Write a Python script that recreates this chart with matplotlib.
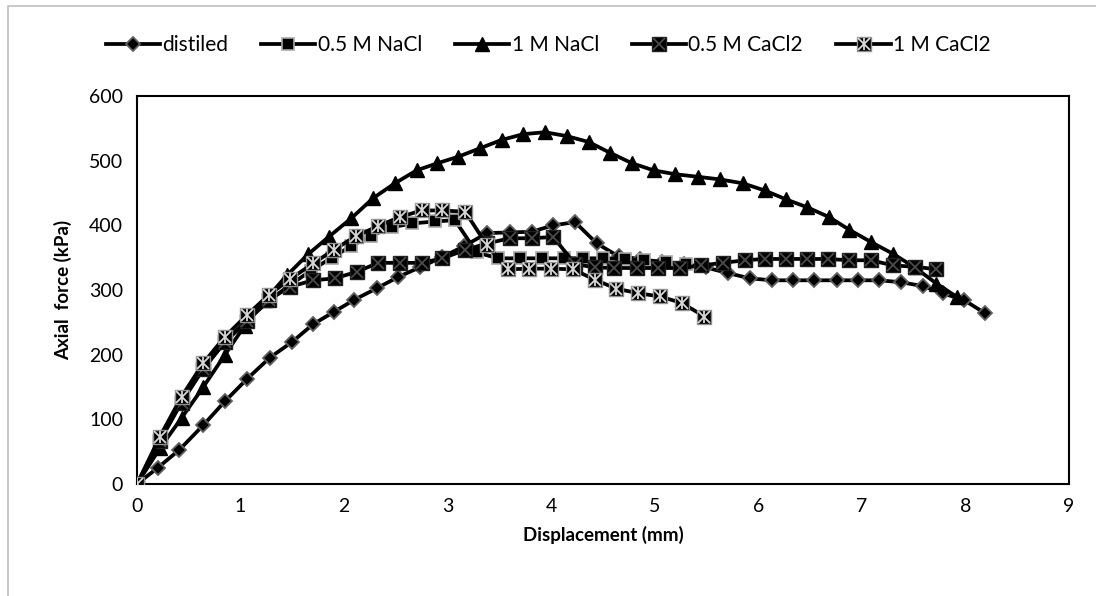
import matplotlib
matplotlib.use("Agg")
import matplotlib.pyplot as plt
from matplotlib.patches import Rectangle

plt.rcParams['font.family'] = ['Lato', 'DejaVu Sans']

# ---- data ----
x_dist = [0, 0.20, 0.41, 0.64, 0.85, 1.06, 1.28, 1.50, 1.70, 1.90, 2.10, 2.32, 2.52, 2.73, 2.95,
          3.16, 3.38, 3.60, 3.81, 4.02, 4.23, 4.44, 4.65, 4.86, 5.07, 5.28, 5.49, 5.71, 5.92,
          6.13, 6.33, 6.54, 6.76, 6.96, 7.17, 7.38, 7.59, 7.78, 7.99, 8.19]
y_dist = [0, 25, 53, 91, 128, 162, 195, 220, 247, 266, 285, 303, 320, 335, 351,
          368, 388, 389, 390, 400, 405, 372, 352, 348, 343, 340, 335, 326, 318,
          315, 315, 315, 315, 315, 315, 312, 306, 295, 284, 264]

x_nacl05 = [0, 0.22, 0.43, 0.64, 0.85, 1.06, 1.27, 1.48, 1.68, 1.88, 2.07, 2.26, 2.46, 2.66,
            2.88, 3.07, 3.28, 3.49, 3.70, 3.91, 4.12, 4.31, 4.50, 4.71, 4.90, 5.11, 5.30]
y_nacl05 = [0, 68, 128, 178, 220, 252, 283, 308, 330, 350, 368, 384, 397, 403,
            406, 408, 358, 349, 349, 349, 349, 349, 349, 348, 346, 343, 340]

x_nacl1 = [0, 0.22, 0.43, 0.64, 0.85, 1.04, 1.24, 1.45, 1.65, 1.85, 2.07, 2.28, 2.49, 2.70,
           2.90, 3.10, 3.31, 3.52, 3.73, 3.94, 4.15, 4.36, 4.57, 4.78, 4.99, 5.20, 5.42,
           5.63, 5.85, 6.06, 6.27, 6.47, 6.68, 6.88, 7.09, 7.30, 7.51, 7.72, 7.92]
y_nacl1 = [0, 55, 102, 150, 200, 245, 285, 323, 355, 382, 411, 442, 465, 485,
           496, 506, 519, 532, 541, 544, 538, 529, 512, 496, 485, 479, 475,
           471, 465, 454, 440, 428, 413, 393, 374, 356, 335, 310, 289]

x_cacl05 = [0, 0.22, 0.43, 0.64, 0.85, 1.06, 1.27, 1.48, 1.70, 1.91, 2.12, 2.33, 2.54, 2.75,
            2.95, 3.17, 3.38, 3.60, 3.81, 4.02, 4.23, 4.42, 4.61, 4.83, 5.03, 5.24, 5.45,
            5.66, 5.87, 6.06, 6.27, 6.47, 6.67, 6.88, 7.09, 7.30, 7.51, 7.72]
y_cacl05 = [0, 66, 126, 178, 220, 252, 285, 305, 315, 318, 328, 342, 342, 342,
            349, 362, 372, 380, 380, 382, 340, 335, 334, 334, 334, 334, 338,
            342, 346, 348, 348, 348, 348, 346, 346, 338, 336, 332]

x_cacl1 = [0, 0.22, 0.43, 0.64, 0.85, 1.06, 1.27, 1.48, 1.70, 1.90, 2.11, 2.33, 2.54, 2.75,
           2.95, 3.17, 3.38, 3.58, 3.79, 4.00, 4.21, 4.42, 4.63, 4.84, 5.05, 5.26, 5.48]
y_cacl1 = [0, 73, 135, 187, 228, 261, 292, 317, 341, 362, 383, 399, 413, 423,
           423, 421, 369, 332, 333, 333, 332, 316, 302, 295, 290, 280, 259]

labels = ['distiled', '0.5 M NaCl', '1 M NaCl', '0.5 M CaCl2', '1 M CaCl2']
x_ticks = list(range(0, 10))
y_ticks = list(range(0, 700, 100))

# ---- figure ----
fig = plt.figure(figsize=(10.96, 5.96), dpi=100)
ax = fig.add_axes([137/1096, 1-484/596, (1069-137)/1096, (484-96)/596])

lw = 2.7
h1, = ax.plot(x_dist, y_dist, color='black', lw=lw, marker='D', ms=7,
              mfc='black', mec='#606060', mew=1.3, zorder=3)
h2, = ax.plot(x_nacl05, y_nacl05, color='black', lw=lw, marker='s', ms=8.5,
              mfc='black', mec='#a8a8a8', mew=1.2, zorder=4)
h3, = ax.plot(x_nacl1, y_nacl1, color='black', lw=lw, marker='^', ms=10.5,
              mfc='black', mec='black', mew=1, zorder=5)
h4a, = ax.plot(x_cacl05, y_cacl05, color='black', lw=lw, marker='s', ms=9.5,
               mfc='black', mec='#202020', mew=1, zorder=6)
h4b, = ax.plot(x_cacl05, y_cacl05, ls='none', marker='x', ms=8,
               mec='#4a4a4a', mew=1.3, zorder=6.1)
h5a, = ax.plot(x_cacl1, y_cacl1, color='black', lw=lw, marker='s', ms=9.5,
               mfc='black', mec='#909090', mew=1, zorder=7)
h5b, = ax.plot(x_cacl1, y_cacl1, ls='none', marker='x', ms=8,
               mec='#d8d8d8', mew=1.3, zorder=7.1)
h5c, = ax.plot(x_cacl1, y_cacl1, ls='none', marker='|', ms=9,
               mec='#d8d8d8', mew=1.3, zorder=7.2)

ax.set_xlim(0, 9)
ax.set_ylim(0, 600)
ax.set_xticks(x_ticks)
ax.set_yticks(y_ticks)
ax.tick_params(length=0, labelsize=14, pad=10)
for sp in ax.spines.values():
    sp.set_linewidth(1.5)
    sp.set_color('black')

ax.set_xlabel('Displacement (mm)', fontsize=13.5, fontweight='bold', labelpad=8)
ax.set_ylabel('Axial  force (kPa)', fontsize=13.5, fontweight='bold', labelpad=12)

fig.legend([h1, h2, h3, (h4a, h4b), (h5a, h5b, h5c)], labels,
           loc='center', bbox_to_anchor=(0.5, 1-45/596), ncol=5, frameon=False,
           fontsize=15, handlelength=2.6, handletextpad=0.1, columnspacing=1.6)

fig.patches.append(Rectangle((8/1096, -0.1), 1.2, 1-6/596+0.1, transform=fig.transFigure,
                             fill=False, edgecolor='#c0c0c0', lw=1.2))

fig.savefig('out.png', dpi=100)
